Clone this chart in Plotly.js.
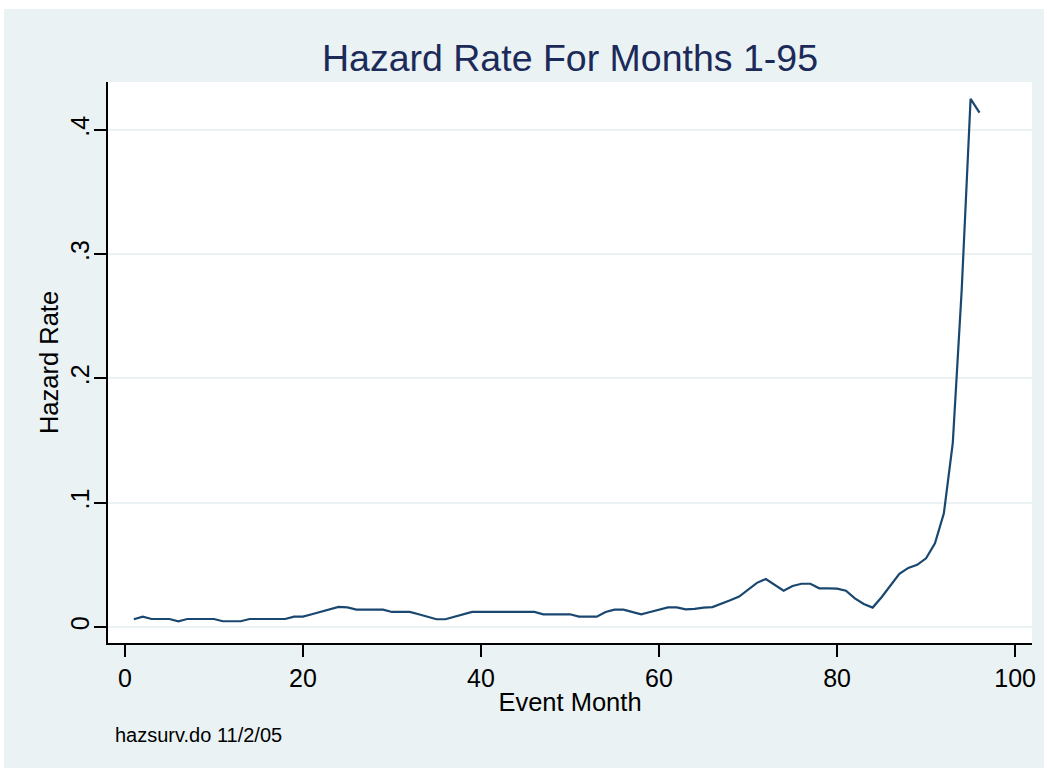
<!DOCTYPE html>
<html>
<head>
<meta charset="utf-8">
<script src="https://cdn.plot.ly/plotly-3.0.1.min.js"></script>
<style>
  html, body { margin: 0; padding: 0; background: #ffffff; }
  #bg { position: absolute; left: 4px; top: 9px; width: 1040px; height: 759px; background: #eaf2f3; }
  #chart { position: absolute; left: 0; top: 0; width: 1047px; height: 770px; }
</style>
</head>
<body>
<div id="bg"></div>
<div id="chart"></div>
<script>
// Event month (1..96)
const months = [];
for (let m = 1; m <= 96; m++) months.push(m);

// Hazard rate
const hazard = [
  0.0062, 0.0083, 0.0064, 0.0064, 0.0064, 0.0046, 0.0064, 0.0064, 0.0064, 0.0064,
  0.0046, 0.0046, 0.0046, 0.0064, 0.0064, 0.0064, 0.0064, 0.0064, 0.0083, 0.0083,
  0.0102, 0.0121, 0.0140, 0.0161, 0.0158, 0.0140, 0.0140, 0.0140, 0.0140, 0.0121,
  0.0121, 0.0121, 0.0102, 0.0083, 0.0062, 0.0062, 0.0083, 0.0102, 0.0121, 0.0121,
  0.0121, 0.0121, 0.0121, 0.0121, 0.0121, 0.0121, 0.0102, 0.0102, 0.0102, 0.0102,
  0.0083, 0.0083, 0.0083, 0.0121, 0.0140, 0.0140, 0.0121, 0.0102, 0.0121, 0.0140,
  0.0158, 0.0158, 0.0142, 0.0145, 0.0156, 0.0160, 0.0185, 0.0215, 0.0245, 0.0300,
  0.0355, 0.0386, 0.0340, 0.0292, 0.0330, 0.0348, 0.0348, 0.0311, 0.0311, 0.0308,
  0.0292, 0.0230, 0.0185, 0.0156, 0.0239, 0.0338, 0.0427, 0.0475, 0.0500, 0.0553,
  0.0674, 0.0915, 0.1480, 0.2710, 0.4250, 0.4140
];

const xTicks = [0, 20, 40, 60, 80, 100];
const yTicks = [0, 0.1, 0.2, 0.3, 0.4];
const yTickText = ['0', '.1', '.2', '.3', '.4'];

const FONT = 'Liberation Sans, Arial, Helvetica, sans-serif';

const trace = {
  x: months,
  y: hazard,
  type: 'scatter',
  mode: 'lines',
  line: { color: '#1a476f', width: 2.2 },
  hoverinfo: 'skip'
};

const layout = {
  width: 1047,
  height: 770,
  paper_bgcolor: 'rgba(0,0,0,0)',
  plot_bgcolor: '#ffffff',
  margin: { l: 108, r: 15, t: 82, b: 127 },
  showlegend: false,
  font: { family: FONT, size: 25, color: '#000000' },
  title: {
    text: 'Hazard Rate For Months 1-95',
    font: { family: FONT, size: 37.5, color: '#1c2a5a' },
    x: 0.5, xref: 'paper', xanchor: 'center',
    y: 1 - 58 / 770, yref: 'container', yanchor: 'middle'
  },
  xaxis: {
    range: [-1.9, 101.9],
    tickvals: xTicks,
    ticks: 'outside', ticklen: 12, tickwidth: 2, tickcolor: '#000000',
    showline: true, linecolor: '#000000', linewidth: 2,
    showgrid: false, zeroline: false,
    tickfont: { family: FONT, size: 25, color: '#000000' },
    title: { text: 'Event Month', font: { family: FONT, size: 25.5, color: '#000000' }, standoff: 2 }
  },
  yaxis: {
    range: [-0.0129, 0.4386],
    tickvals: yTicks,
    ticktext: yTickText,
    tickangle: -90,
    ticklabelstandoff: -5,
    ticks: 'outside', ticklen: 12, tickwidth: 2, tickcolor: '#000000',
    showline: true, linecolor: '#000000', linewidth: 2,
    showgrid: true, gridcolor: '#eaf2f3', gridwidth: 2,
    zeroline: false,
    tickfont: { family: FONT, size: 25, color: '#000000' },
    title: { text: 'Hazard Rate', font: { family: FONT, size: 25.5, color: '#000000' }, standoff: 0 }
  },
  annotations: [
    {
      text: 'hazsurv.do 11/2/05',
      xref: 'paper', yref: 'paper',
      x: (113 - 108) / 924, y: -(735 - 643) / 561,
      xanchor: 'left', yanchor: 'middle',
      showarrow: false,
      font: { family: FONT, size: 20, color: '#000000' }
    }
  ]
};

Plotly.newPlot('chart', [trace], layout, { displayModeBar: false, staticPlot: true });
</script>
</body>
</html>
